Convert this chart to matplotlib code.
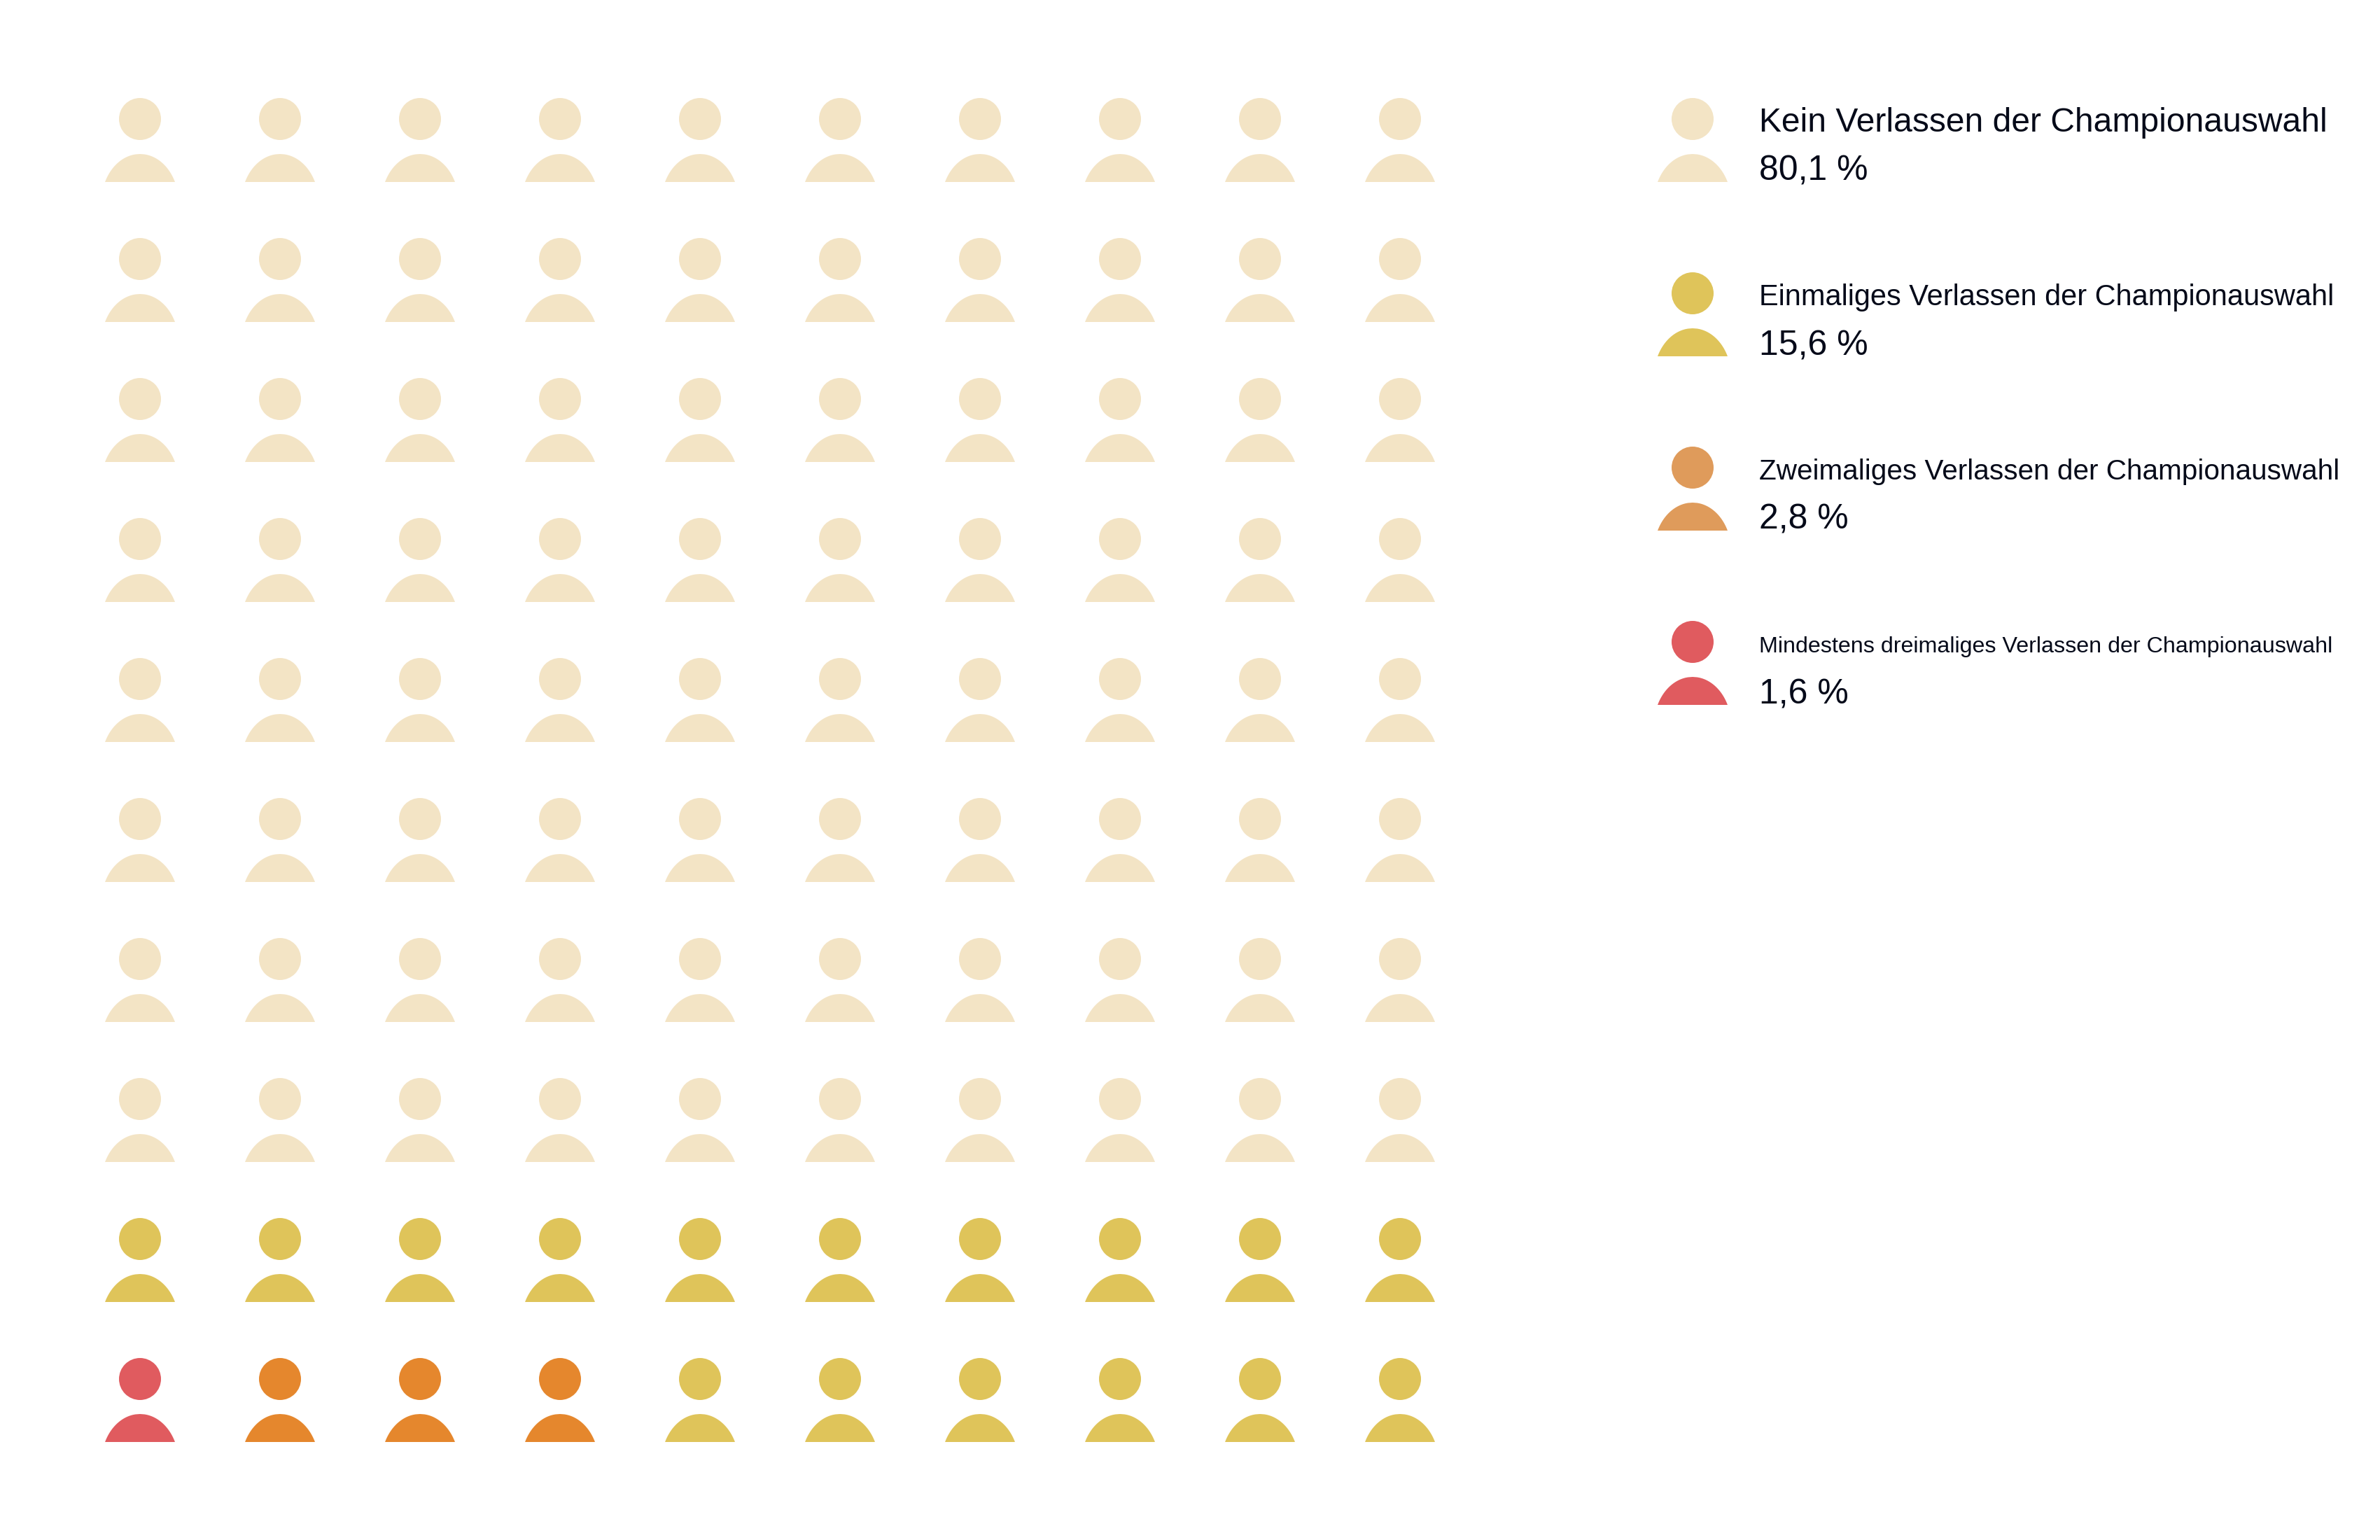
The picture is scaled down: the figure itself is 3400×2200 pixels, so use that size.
import numpy as np
import matplotlib
matplotlib.use("Agg")
import matplotlib.pyplot as plt
from matplotlib.patches import Circle, Polygon

# Data
labels = [
    "Kein Verlassen der Championauswahl",
    "Einmaliges Verlassen der Championauswahl",
    "Zweimaliges Verlassen der Championauswahl",
    "Mindestens dreimaliges Verlassen der Championauswahl",
]
values = ["80,1 %", "15,6 %", "2,8 %", "1,6 %"]
icon_counts = [80, 16, 3, 1]

# Colors
grid_colors = ["#F3E4C5", "#DFC45A", "#E5872D", "#E05B5F"]
legend_colors = ["#F3E4C5", "#DFC45A", "#DF9B5B", "#E05B5F"]
text_color = "#050A19"

# Label sizes differ because the source shrinks long labels to fit
label_sizes = [34.6, 29.9, 29.15, 23.2]
label_offsets = [18, 17, 17, 15]
value_size = 36

plt.rcParams["font.family"] = ["Liberation Sans", "DejaVu Sans"]

fig = plt.figure(figsize=(34, 22), dpi=100)
ax = fig.add_axes([0, 0, 1, 1])
ax.set_xlim(0, 3400)
ax.set_ylim(2200, 0)
ax.axis("off")


def draw_person(x, y, color):
    # y is the head centre, body is a clipped ellipse
    ax.add_patch(Circle((x, y), 30, fc=color, ec="none"))
    bottom = y + 90
    dy = np.linspace(-70, -30, 80)
    half = 55.3 * np.sqrt(1 - (dy / 70) ** 2)
    yy = bottom + 30 + dy
    pts = np.r_[np.c_[x - half, yy], np.c_[x + half, yy][::-1]]
    ax.add_patch(Polygon(pts, closed=True, fc=color, ec="none"))


# Waffle grid, filled from the bottom left
order = []
for count, color in zip(icon_counts[::-1], grid_colors[::-1]):
    order += [color] * count

for i, color in enumerate(order):
    row = 9 - i // 10
    col = i % 10
    draw_person(200 + col * 200, 170 + row * 200, color)

# Legend
for i in range(4):
    y = 170 + i * 249
    draw_person(2418, y, legend_colors[i])
    ax.text(2513, y + label_offsets[i], labels[i], fontsize=label_sizes[i],
            color=text_color, va="baseline", ha="left")
    ax.text(2513, y + 88, values[i], fontsize=value_size,
            color=text_color, va="baseline", ha="left")

fig.savefig("out.png", dpi=100, facecolor="white")
